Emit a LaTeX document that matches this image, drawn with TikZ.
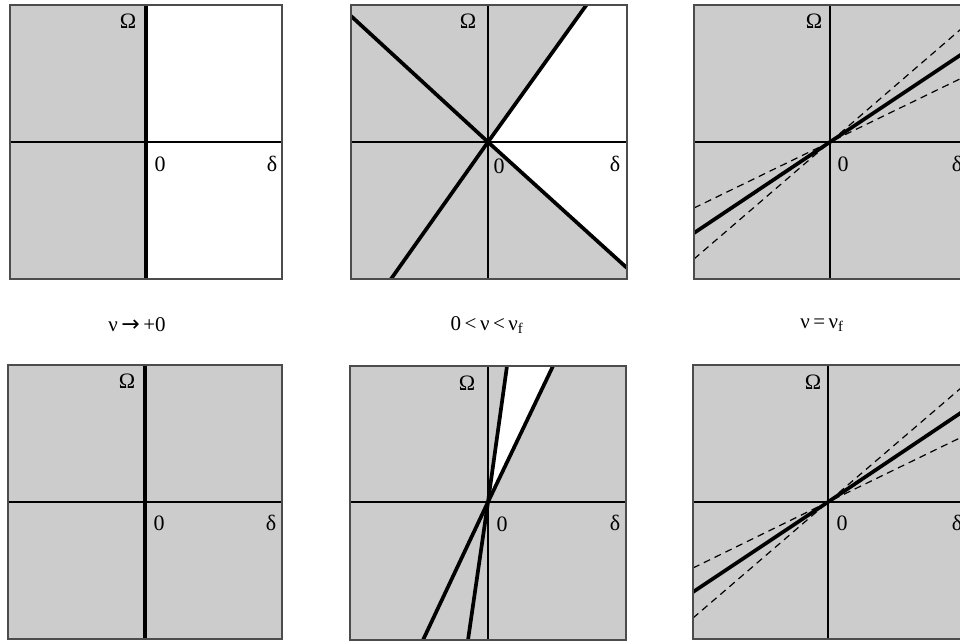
\documentclass[tikz,border=0pt]{standalone}
\usepackage{fontspec}
\setmainfont{Liberation Serif}
\newfontfamily\arrowfont{DejaVu Sans}
\definecolor{panelgray}{gray}{0.8}
\definecolor{framecol}{gray}{0.3}
\begin{document}
\begin{tikzpicture}[x=1pt,y=-1pt,
  lbl/.style={font=\fontsize{22}{26}\selectfont, inner sep=0pt},
  captext/.style={font=\fontsize{21}{25}\selectfont, inner sep=0pt},
  frame/.style={draw=framecol, line width=1.2pt},
  axis/.style={line width=1.4pt},
  bold line/.style={line width=3.7pt},
  dash line/.style={line width=1.2pt, dash pattern=on 7pt off 5pt}]
\useasboundingbox (0,0) rectangle (960,643);
\clip (0,0) rectangle (960,643);

% ---------- Panel 1 ----------
\coordinate (O1) at (146,142);
\fill[panelgray] (10,5) rectangle (146,279);
\draw[axis] (10,142) -- (282,142);
\draw[bold line] (146,5) -- (146,279);
\draw[frame] (10,5) rectangle (282,279);
\node[lbl] (om1) at (128,21) {Ω};
\node[lbl] (z1) at (160,164) {0};
\node[lbl] (d1) at (272,164) {δ};

% ---------- Panel 2 ----------
\coordinate (O2) at (488,142);
\fill[panelgray] (351,5) rectangle (627,279);
\fill[white] (O2) -- (586,5) -- (627,5) -- (627,268) -- cycle;
\draw[axis] (351,142) -- (627,142);
\draw[axis] (488,5) -- (488,279);
\begin{scope}
\clip (351,5) rectangle (627,279);
\draw[bold line] (351,16) -- (O2) -- (627,268);
\draw[bold line] (590,0) -- (O2) -- (391,279);
\end{scope}
\draw[frame] (351,5) rectangle (627,279);
\node[lbl] (om2) at (468,21) {Ω};
\node[lbl] (z2) at (499,166) {0};
\node[lbl] (d2) at (615,164) {δ};

% ---------- Panel 3 ----------
\coordinate (O3) at (830,142);
\fill[panelgray] (694,5) rectangle (968,279);
\draw[axis] (694,142) -- (968,142);
\draw[axis] (830,5) -- (830,279);
\begin{scope}
\clip (694,5) rectangle (968,279);
\draw[dash line] (694,259) -- (O3) -- (968,23);
\draw[dash line] (694,208) -- (O3) -- (968,75);
\draw[bold line] (694,233) -- (O3) -- (968,50);
\end{scope}
\draw[frame] (694,5) rectangle (968,279);
\node[lbl] (om3) at (814,21) {Ω};
\node[lbl] (z3) at (843,164) {0};
\node[lbl] (d3) at (957,164) {δ};

% ---------- Captions ----------
\node[captext] (c1) at (137,325) {ν\,{\arrowfont\fontsize{22}{26}\selectfont→}\,+0};
\node[captext] (c2) at (487,325) {0\,<\,ν\,<\,ν\textsubscript{f}};
\node[captext] (c3) at (822,325) {ν\,=\,ν\textsubscript{f}};

% ---------- Panel 4 ----------
\coordinate (O4) at (145,502);
\fill[panelgray] (8,365) rectangle (282,639);
\draw[axis] (8,502) -- (282,502);
\draw[bold line] (145,365) -- (145,639);
\draw[frame] (8,365) rectangle (282,639);
\node[lbl] (om4) at (127,381) {Ω};
\node[lbl] (z4) at (159,523) {0};
\node[lbl] (d4) at (271,523) {δ};

% ---------- Panel 5 ----------
\coordinate (O5) at (488,502);
\fill[panelgray] (350,366) rectangle (626,640);
\fill[white] (O5) -- (507,366) -- (553,366) -- cycle;
\draw[axis] (350,502) -- (626,502);
\draw[axis] (488,366) -- (488,640);
\begin{scope}
\clip (350,366) rectangle (626,640);
\draw[bold line] (507,366) -- (O5) -- (468,640);
\draw[bold line] (553,366) -- (O5) -- (423,640);
\end{scope}
\draw[frame] (350,366) rectangle (626,640);
\node[lbl] (om5) at (467,383) {Ω};
\node[lbl] (z5) at (502,524) {0};
\node[lbl] (d5) at (615,523) {δ};

% ---------- Panel 6 ----------
\coordinate (O6) at (828,502);
\fill[panelgray] (693,365) rectangle (968,639);
\draw[axis] (693,502) -- (968,502);
\draw[axis] (828,365) -- (828,639);
\begin{scope}
\clip (693,365) rectangle (968,639);
\draw[dash line] (693,618) -- (O6) -- (968,382);
\draw[dash line] (693,568) -- (O6) -- (968,434);
\draw[bold line] (693,592) -- (O6) -- (968,408);
\end{scope}
\draw[frame] (693,365) rectangle (968,639);
\node[lbl] (om6) at (813,382) {Ω};
\node[lbl] (z6) at (842,523) {0};
\node[lbl] (d6) at (957,523) {δ};
\end{tikzpicture}
\end{document}
